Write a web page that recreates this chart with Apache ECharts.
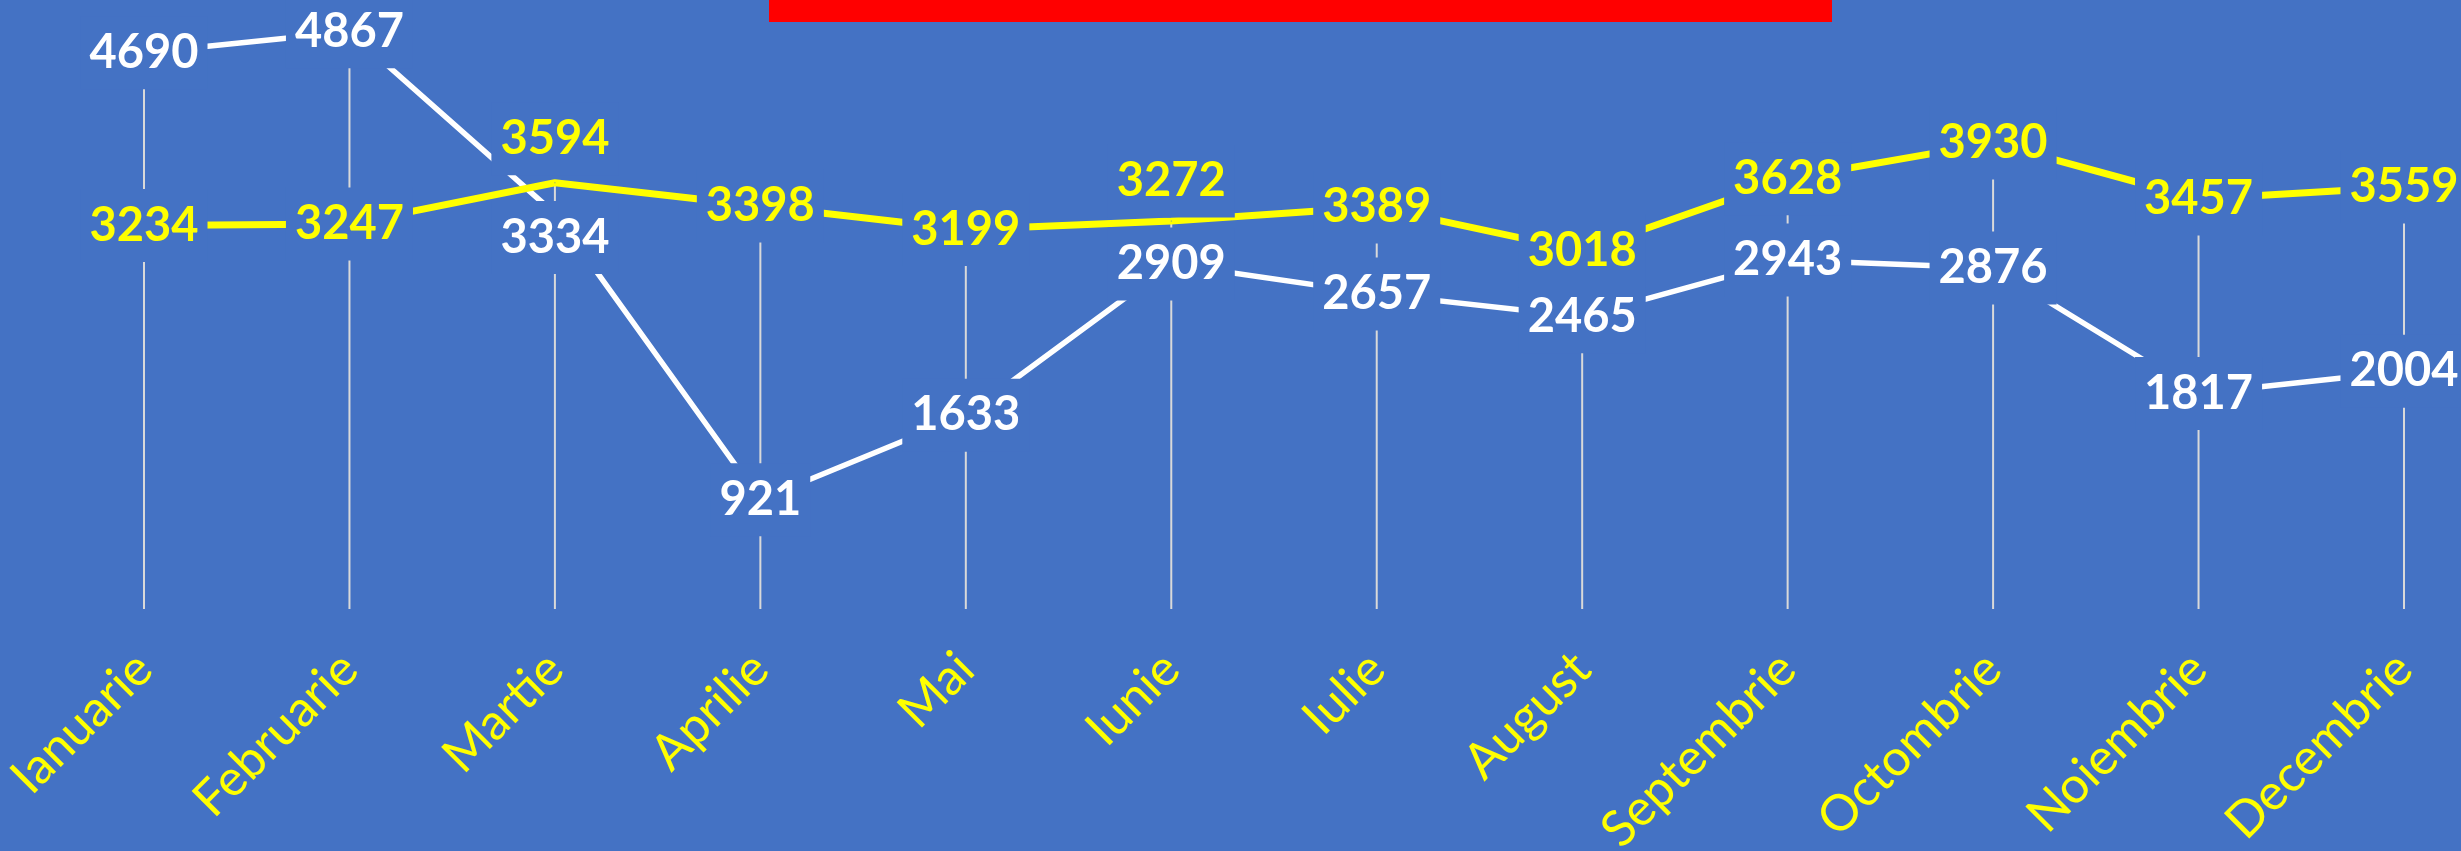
<!DOCTYPE html>
<html lang="ro">
<head>
    <meta charset="UTF-8">
    <title>Grafic lunar</title>
    <script src="https://cdn.jsdelivr.net/npm/echarts@6/dist/echarts.min.js"></script>
    <style>
        html, body { margin: 0; padding: 0; background: #4472C4; }
    </style>
</head>
<body>
<div id="mybox" style="height: 851px;width: 2461px;"></div>
<script>
    // date
    var luni = ['Ianuarie', 'Februarie', 'Martie', 'Aprilie', 'Mai', 'Iunie',
        'Iulie', 'August', 'Septembrie', 'Octombrie', 'Noiembrie', 'Decembrie'];
    var valoriAlb = [4690, 4867, 3334, 921, 1633, 2909, 2657, 2465, 2943, 2876, 1817, 2004];
    var valoriGalben = [3234, 3247, 3594, 3398, 3199, 3272, 3389, 3018, 3628, 3930, 3457, 3559];

    // etichetele mutate manual (ca in original), index -> deplasare verticala
    var mutariAlb = {2: 24};
    var mutariGalben = {2: -44, 5: -40};

    var fundal = '#4472C4';

    function puncte(valori, mutari) {
        return valori.map(function (v, i) {
            if (mutari[i] !== undefined) {
                return {value: v, label: {offset: [0, mutari[i]]}};
            }
            return v;
        });
    }

    // linii verticale de la punctul maxim pana la axa
    var maxime = valoriAlb.map(function (v, i) {
        return Math.max(v, valoriGalben[i]);
    });

    function eticheta(culoare) {
        return {
            show: true,
            position: 'inside',
            color: culoare,
            fontFamily: 'Lato',
            fontWeight: 'bold',
            fontSize: 47,
            lineHeight: 47,
            backgroundColor: fundal,
            padding: [13, 9]
        };
    }

    var mychart = echarts.init(document.getElementById('mybox'));
    mychart.setOption({
        animation: false,
        backgroundColor: fundal,
        grid: {
            left: 144,
            right: 57,
            top: 16,
            bottom: 242,
            containLabel: false,
            outerBoundsMode: 'none'
        },
        xAxis: {
            type: 'category',
            data: luni,
            boundaryGap: false,
            axisLine: {show: false},
            axisTick: {show: false},
            splitLine: {show: false},
            axisLabel: {
                rotate: 45,
                color: '#FFFF00',
                fontFamily: 'Lato',
                fontSize: 50,
                margin: 52,
                interval: 0
            }
        },
        yAxis: {
            type: 'value',
            min: 0,
            max: 5000,
            show: false
        },
        graphic: [{
            type: 'rect',
            left: 769,
            top: 0,
            shape: {width: 1063, height: 22},
            style: {fill: '#FF0000'}
        }],
        series: [
            {
                name: 'linii',
                type: 'bar',
                data: maxime,
                barWidth: 2,
                itemStyle: {color: '#D9D9D9'},
                silent: true,
                z: 1
            },
            {
                name: 'alb',
                type: 'line',
                data: valoriAlb,
                symbol: 'none',
                lineStyle: {color: '#FFFFFF', width: 5.5},
                z: 2
            },
            {
                name: 'galben',
                type: 'line',
                data: valoriGalben,
                symbol: 'none',
                lineStyle: {color: '#FFFF00', width: 7},
                z: 2
            },
            {
                name: 'alb-etichete',
                type: 'line',
                data: puncte(valoriAlb, mutariAlb),
                symbol: 'circle',
                symbolSize: 1,
                itemStyle: {color: fundal},
                lineStyle: {opacity: 0},
                label: eticheta('#FFFFFF'),
                z: 5
            },
            {
                name: 'galben-etichete',
                type: 'line',
                data: puncte(valoriGalben, mutariGalben),
                symbol: 'circle',
                symbolSize: 1,
                itemStyle: {color: fundal},
                lineStyle: {opacity: 0},
                label: eticheta('#FFFF00'),
                z: 5
            }
        ]
    });
</script>
</body>
</html>
